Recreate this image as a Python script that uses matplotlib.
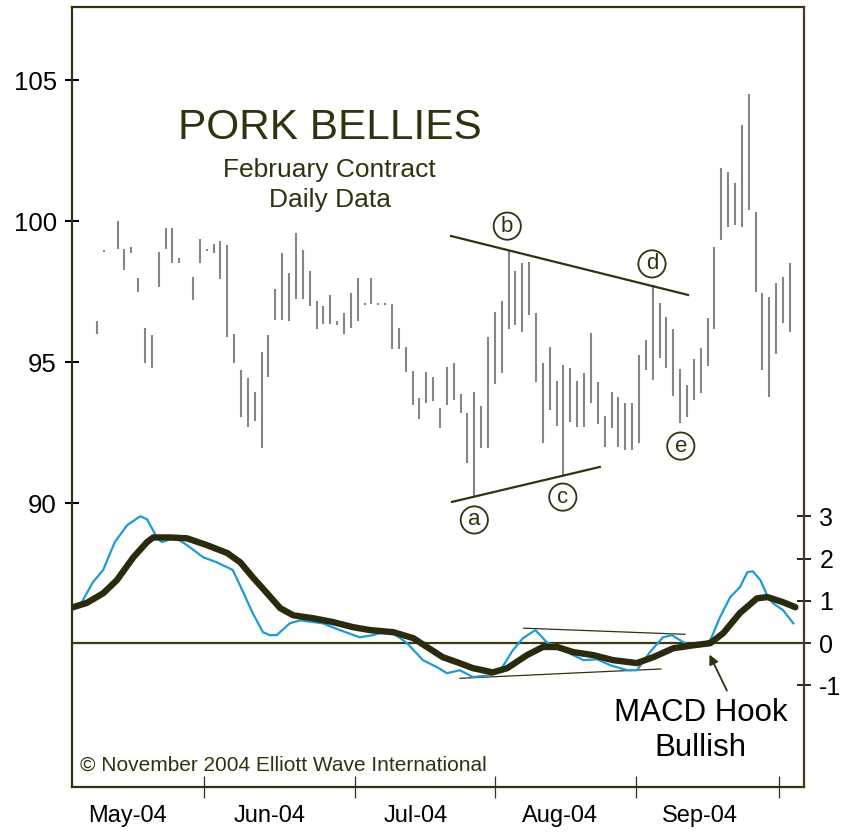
import matplotlib
matplotlib.use("Agg")
import matplotlib.pyplot as plt

plt.rcParams['font.family'] = ['Liberation Sans', 'DejaVu Sans']

# daily high/low bars (x = trading-day index)
bar_day = [0, 1, 3, 4, 5, 6, 7, 8, 9, 10, 11, 12, 14, 15, 16, 17, 18, 19, 20, 21,
           22, 23, 24, 25, 26, 27, 28, 29, 30, 31, 32, 33, 34, 35, 36, 37, 38, 39, 40, 41,
           42, 43, 44, 45, 46, 47, 48, 49, 50, 51, 52, 53, 54, 55, 56, 57, 58, 59, 60, 61,
           62, 63, 64, 65, 66, 67, 68, 69, 70, 71, 72, 73, 74, 75, 76, 77, 78, 79, 80, 81,
           82, 83, 84, 85, 86, 87, 88, 89, 90, 91, 92, 93, 94, 95, 96, 97, 98, 99, 100, 101]
bar_high = [96.45, 98.97, 100.0, 99.0, 99.08, 97.98, 96.2, 95.96, 98.9, 99.75, 99.75, 98.7, 98.0, 99.36, 99.0, 99.2, 99.3, 99.15, 96.0, 94.7,
            94.43, 93.94, 95.35, 95.96, 97.6, 98.87, 98.16, 99.57, 98.97, 98.23, 97.16, 96.99, 97.38, 96.45, 96.74, 97.45, 97.98, 97.08, 97.98, 97.08,
            97.08, 97.06, 96.2, 95.53, 94.68, 93.72, 94.65, 94.47, 93.37, 94.82, 94.96, 93.87, 93.19, 93.94, 93.44, 95.89, 96.77, 97.16, 98.94, 98.23,
            98.51, 98.55, 96.74, 94.96, 95.53, 94.33, 94.89, 94.79, 94.33, 94.61, 96.03, 94.29, 93.1, 93.94, 93.76, 93.55, 93.55, 95.25, 95.78, 97.73,
            97.09, 96.6, 96.17, 94.75, 94.18, 95.1, 95.5, 96.56, 99.08, 101.88, 101.74, 101.35, 103.4, 104.5, 100.32, 97.45, 97.3, 97.8, 98.0, 98.51]
bar_low = [95.99, 98.90, 99.0, 98.26, 98.87, 97.48, 94.96, 94.79, 97.66, 99.0, 98.5, 98.5, 97.2, 98.5, 98.94, 98.87, 97.94, 95.9, 94.96, 93.05,
           92.7, 92.9, 91.95, 94.47, 96.5, 96.5, 96.45, 97.23, 97.23, 96.99, 96.17, 96.35, 96.35, 96.31, 95.99, 96.2, 96.45, 97.03, 97.06, 97.03,
           97.03, 95.46, 95.46, 94.65, 93.48, 92.98, 93.55, 93.62, 92.66, 93.46, 93.65, 93.19, 91.42, 90.21, 91.95, 91.95, 94.22, 94.61, 96.17, 96.31,
           96.06, 96.67, 94.29, 92.13, 93.3, 92.73, 90.96, 92.87, 92.7, 92.7, 93.55, 92.8, 92.0, 92.66, 91.99, 91.88, 91.88, 92.13, 94.72, 94.36,
           95.14, 94.79, 93.79, 92.84, 93.05, 93.65, 93.9, 94.86, 96.17, 99.33, 99.79, 99.86, 99.79, 100.4, 97.48, 94.72, 93.76, 95.28, 96.38, 96.06]

# MACD (blue) and signal line (thick)
macd_day = [-3.5, -2.2, -0.6, 0.9, 2.6, 4.4, 6.3, 7.3, 8.8, 9.5, 11.4, 13.1, 15.5, 17.5, 19.8, 21.3, 22.7, 24.2,
            25.2, 26.2, 28.1, 29.6, 32.9, 35.4, 38.3, 40.2, 41.3, 43.2, 45.2, 47.5, 49.6, 51.0, 52.9, 54.8,
            57.3, 58.8, 60.6, 62.1, 63.9, 65.7, 67.1, 68.5, 70.9, 72.9, 74.8, 77.3, 78.7, 80.6, 82.5, 83.8,
            85.0, 86.7, 88.3, 89.4, 90.8, 92.3, 93.7, 94.8, 95.6, 96.7, 97.8, 98.5, 100.0, 101.5]
macd_val = [0.87, 0.97, 1.44, 1.73, 2.39, 2.79, 3.0, 2.93, 2.48, 2.39, 2.5, 2.32, 2.03, 1.91, 1.73, 1.21, 0.71, 0.26,
            0.19, 0.19, 0.47, 0.54, 0.47, 0.31, 0.14, 0.19, 0.24, 0.24, 0.0, -0.4, -0.57, -0.71, -0.64, -0.8,
            -0.76, -0.64, -0.17, 0.12, 0.31, 0.0, -0.05, -0.21, -0.4, -0.38, -0.52, -0.64, -0.64, -0.21, 0.14, 0.19,
            0.07, -0.09, 0.0, 0.07, 0.61, 1.09, 1.32, 1.68, 1.70, 1.49, 1.09, 0.95, 0.78, 0.47]
signal_day = [-3.5, -1.5, 0.9, 2.9, 5.3, 7.3, 8.2, 10.6, 13.1, 16.0, 19.0, 20.9, 22.7, 24.8, 26.7, 28.6, 31.5,
              34.4, 37.3, 39.8, 43.2, 46.1, 48.1, 50.4, 52.5, 54.8, 57.7, 59.8, 62.7, 65.0, 67.1, 69.4, 72.3,
              75.2, 78.7, 81.1, 84.0, 86.9, 89.4, 91.3, 93.7, 96.2, 97.7, 100.0, 101.8]
signal_val = [0.85, 0.95, 1.18, 1.49, 2.03, 2.39, 2.5, 2.5, 2.48, 2.32, 2.13, 1.91, 1.56, 1.18, 0.83, 0.66, 0.59,
              0.5, 0.38, 0.31, 0.26, 0.12, -0.09, -0.33, -0.45, -0.59, -0.69, -0.59, -0.28, -0.09, -0.09, -0.21, -0.28,
              -0.4, -0.47, -0.33, -0.12, -0.05, 0.0, 0.24, 0.71, 1.06, 1.09, 0.97, 0.85]

month_edges = [15.6, 37.6, 58.0, 78.6, 99.4]
month_centers = [4.4, 25.2, 46.4, 67.5, 87.9]
month_labels = ['May-04', 'Jun-04', 'Jul-04', 'Aug-04', 'Sep-04']

wave_labels = ['a', 'b', 'c', 'd', 'e']
wave_day = [55.0, 59.8, 67.9, 80.9, 85.1]
wave_price = [89.4, 99.82, 90.21, 98.48, 92.02]

dark = '#33320f'

fig = plt.figure(figsize=(8.51, 8.33), dpi=100)
ax = fig.add_axes([0.0846, 0.0552, 0.8602, 0.9364])
ax2 = ax.twinx()

ax.vlines(bar_day, bar_low, bar_high, color='#858585', lw=1.5)

# triangle boundaries
ax.plot([51.6, 86.15], [99.47, 97.38], color=dark, lw=1.6)
ax.plot([51.75, 73.3], [90.04, 91.28], color=dark, lw=1.6)

for lab, xd, yp in zip(wave_labels, wave_day, wave_price):
    ax.text(xd, yp, lab, ha='center', va='center', fontsize=16, color=dark,
            bbox=dict(boxstyle='circle,pad=0.14', fc='white', ec=dark, lw=1.3))

ax.set_xlim(-3.64, 103.06)
ax.set_ylim(79.93, 107.59)
ax2.set_ylim(-3.40, 15.04)

ax2.axhline(0, color='#3b3a10', lw=1.6)
ax2.plot([62.2, 85.7], [0.355, 0.21], color=dark, lw=0.9)
ax2.plot([52.9, 82.2], [-0.83, -0.61], color=dark, lw=0.9)
ax2.plot(macd_day, macd_val, color='#1f9ad6', lw=1.6, solid_joinstyle='round')
ax2.plot(signal_day, signal_val, color='#2b2a0d', lw=4.6, solid_joinstyle='round',
         solid_capstyle='round')

ax2.annotate('', xy=(89.1, -0.21), xytext=(92.0, -1.18),
             arrowprops=dict(arrowstyle='-|>', color=dark, lw=1.3, mutation_scale=14))

ax.text(0.352, 0.845, 'PORK BELLIES', transform=ax.transAxes, ha='center', va='center',
        fontsize=30.5, color=dark)
ax.text(0.352, 0.791, 'February Contract', transform=ax.transAxes, ha='center', va='center',
        fontsize=19, color=dark)
ax.text(0.352, 0.753, 'Daily Data', transform=ax.transAxes, ha='center', va='center',
        fontsize=19, color=dark)
ax.text(0.859, 0.095, 'MACD Hook', transform=ax.transAxes, ha='center', va='center',
        fontsize=22.5, color='black')
ax.text(0.859, 0.050, 'Bullish', transform=ax.transAxes, ha='center', va='center',
        fontsize=22.5, color='black')
ax.text(0.011, 0.028, '\u00a9 November 2004 Elliott Wave International', transform=ax.transAxes,
        ha='left', va='center', fontsize=15, color=dark)

ax.set_yticks([90, 95, 100, 105])
ax.tick_params(axis='y', direction='inout', length=10, width=1.5, labelsize=18.5, pad=6,
               colors='black')
ax2.set_yticks([-1, 0, 1, 2, 3])
ax2.set_yticklabels(['-1', '0', '1', '2', '3'])
ax2.tick_params(axis='y', direction='inout', length=10, width=1.2, labelsize=18, pad=6)

ax.set_xticks(month_edges)
ax.set_xticklabels([''] * len(month_edges))
ax.set_xticks(month_centers, minor=True)
ax.set_xticklabels(month_labels, minor=True)
ax.tick_params(axis='x', which='major', direction='inout', length=16, width=0.9, color='#333333')
ax.tick_params(axis='x', which='minor', length=0, labelsize=17, pad=13)

for sp in ['left', 'top', 'bottom']:
    ax.spines[sp].set_color(dark)
    ax.spines[sp].set_linewidth(1.6)
    ax2.spines[sp].set_visible(False)
ax.spines['right'].set_visible(False)
ax2.spines['right'].set_color('#55331f')
ax2.spines['right'].set_linewidth(1.6)

fig.savefig('out.png', dpi=100)
